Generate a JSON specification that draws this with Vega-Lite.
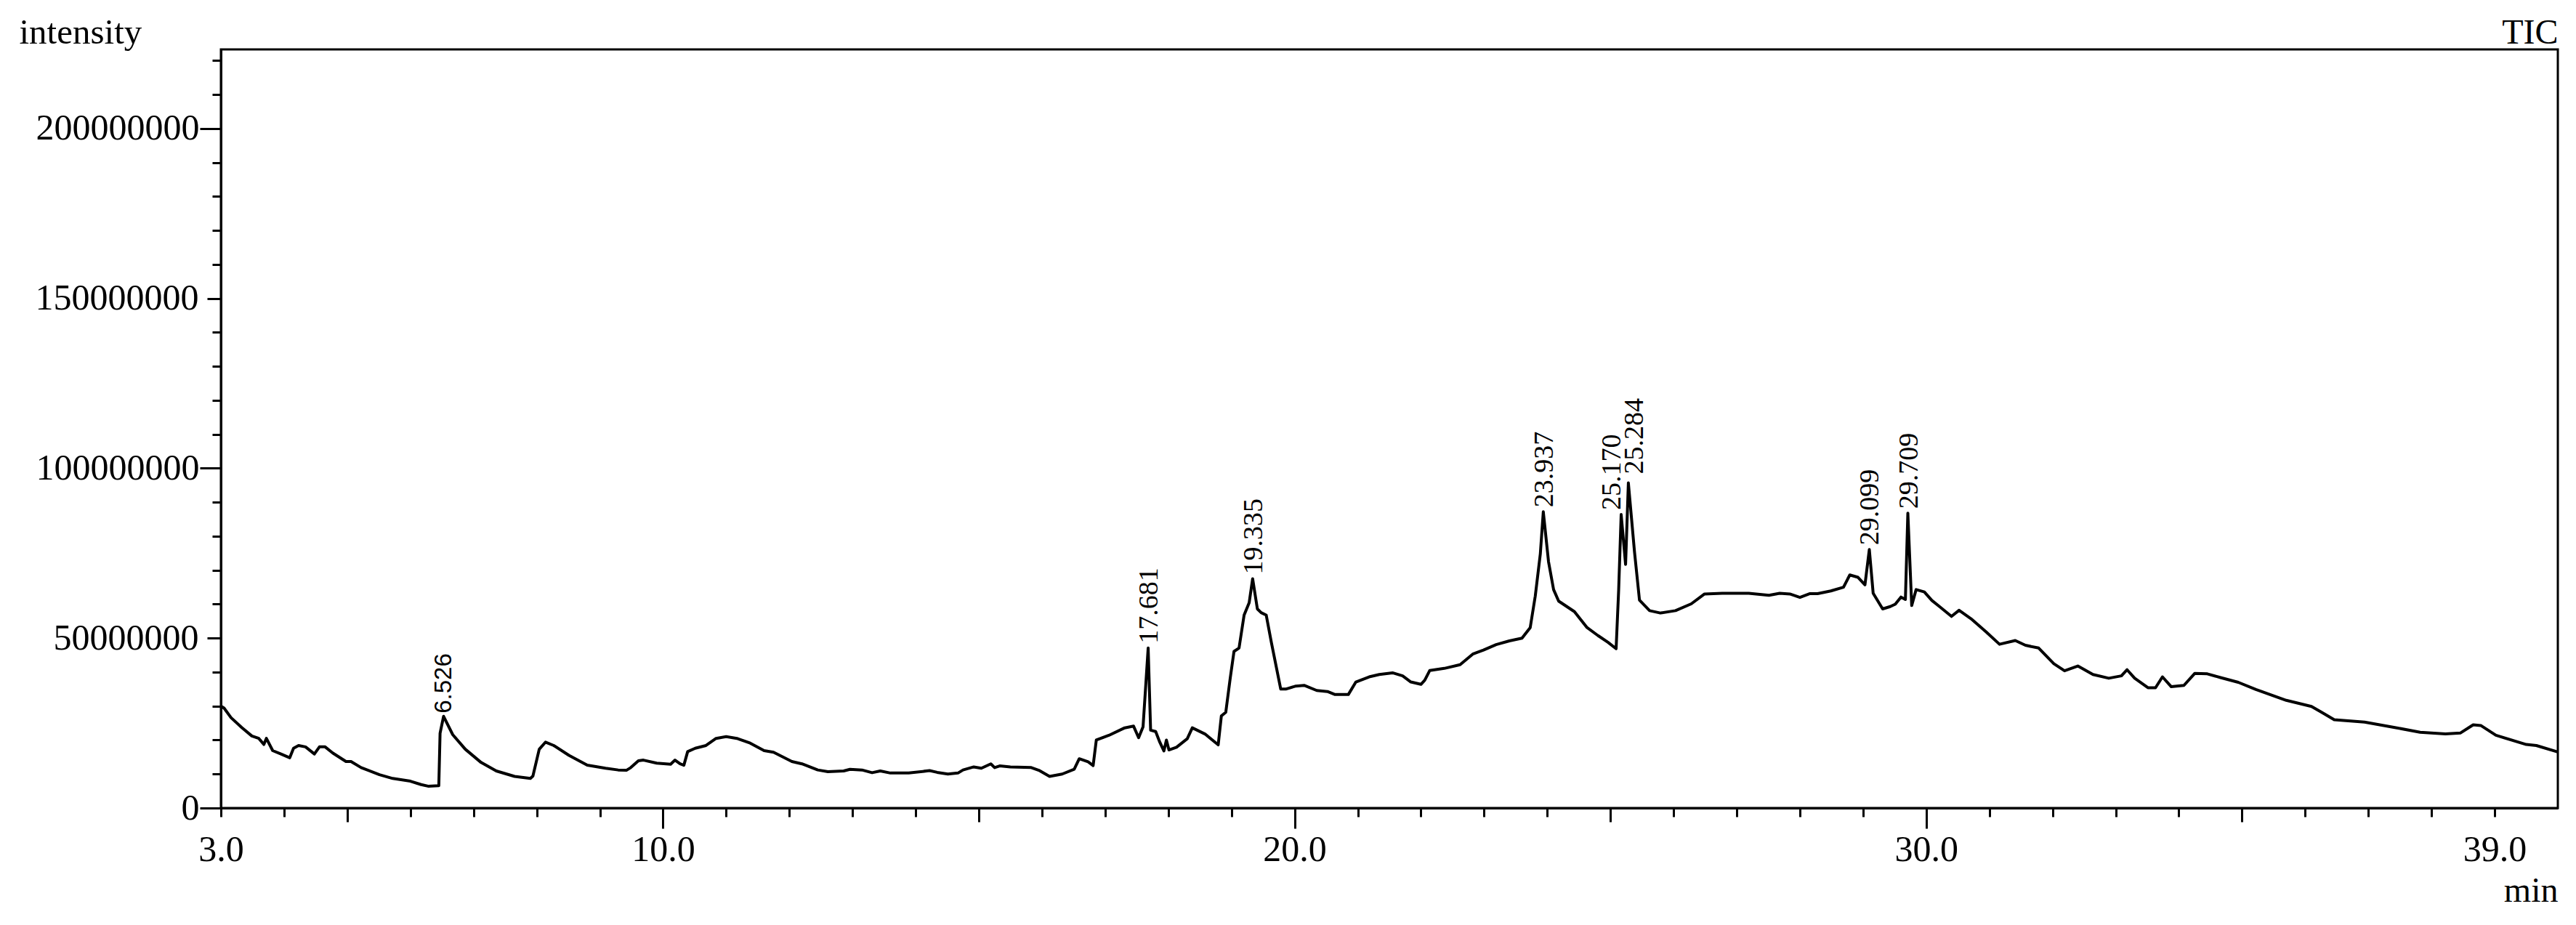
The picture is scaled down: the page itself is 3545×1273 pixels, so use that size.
{
  "$schema": "https://vega.github.io/schema/vega-lite/v6.json",
  "width": 3216,
  "height": 1044,
  "autosize": {"type": "none"},
  "padding": {"left": 304, "top": 68, "right": 25, "bottom": 161},
  "background": "white",
  "config": {
    "view": {"stroke": "black", "strokeWidth": 3},
    "axis": {"grid": false, "domainColor": "black", "domainWidth": 3, "tickColor": "black", "tickWidth": 3, "labelColor": "black", "titleColor": "black", "labelFont": "Liberation Serif", "titleFont": "Liberation Serif", "titleFontWeight": "normal", "labelOverlap": false, "labelFlush": false, "labelBound": false, "labelLimit": 0, "titleLimit": 0}
  },
  "data": {"values": [
    {"t": 3.0, "v": 30000000}, {"t": 3.05, "v": 29400000}, {"t": 3.16, "v": 26600000}, {"t": 3.33, "v": 23700000},
    {"t": 3.49, "v": 21200000}, {"t": 3.6, "v": 20500000}, {"t": 3.68, "v": 18700000}, {"t": 3.72, "v": 20500000},
    {"t": 3.82, "v": 16900000}, {"t": 3.95, "v": 15900000}, {"t": 4.09, "v": 14800000}, {"t": 4.15, "v": 17600000},
    {"t": 4.23, "v": 18400000}, {"t": 4.34, "v": 18000000}, {"t": 4.48, "v": 15900000}, {"t": 4.56, "v": 18000000},
    {"t": 4.65, "v": 18000000}, {"t": 4.77, "v": 16200000}, {"t": 4.98, "v": 13700000}, {"t": 5.06, "v": 13700000},
    {"t": 5.22, "v": 11900000}, {"t": 5.51, "v": 9800000}, {"t": 5.72, "v": 8700000}, {"t": 6.0, "v": 7900000},
    {"t": 6.17, "v": 6900000}, {"t": 6.29, "v": 6400000}, {"t": 6.45, "v": 6600000}, {"t": 6.47, "v": 22000000},
    {"t": 6.526, "v": 27000000, "label": "6.526"}, {"t": 6.67, "v": 21600000}, {"t": 6.87, "v": 17300000},
    {"t": 7.12, "v": 13400000}, {"t": 7.36, "v": 10900000}, {"t": 7.65, "v": 9300000}, {"t": 7.9, "v": 8700000},
    {"t": 7.94, "v": 9400000}, {"t": 8.04, "v": 17300000}, {"t": 8.14, "v": 19400000}, {"t": 8.27, "v": 18400000},
    {"t": 8.51, "v": 15500000}, {"t": 8.8, "v": 12600000}, {"t": 9.09, "v": 11700000}, {"t": 9.29, "v": 11200000},
    {"t": 9.42, "v": 11100000}, {"t": 9.49, "v": 11900000}, {"t": 9.61, "v": 13900000}, {"t": 9.69, "v": 14100000},
    {"t": 9.9, "v": 13200000}, {"t": 10.12, "v": 12900000}, {"t": 10.19, "v": 14100000}, {"t": 10.27, "v": 13000000},
    {"t": 10.33, "v": 12600000}, {"t": 10.39, "v": 16600000}, {"t": 10.51, "v": 17600000}, {"t": 10.68, "v": 18400000},
    {"t": 10.84, "v": 20500000}, {"t": 11.0, "v": 21000000}, {"t": 11.17, "v": 20500000}, {"t": 11.38, "v": 19100000},
    {"t": 11.6, "v": 16900000}, {"t": 11.75, "v": 16400000}, {"t": 12.04, "v": 13700000}, {"t": 12.2, "v": 13000000},
    {"t": 12.45, "v": 11200000}, {"t": 12.61, "v": 10700000}, {"t": 12.86, "v": 10900000}, {"t": 12.96, "v": 11400000},
    {"t": 13.15, "v": 11200000}, {"t": 13.31, "v": 10400000}, {"t": 13.44, "v": 10900000}, {"t": 13.6, "v": 10300000},
    {"t": 13.89, "v": 10300000}, {"t": 14.22, "v": 11000000}, {"t": 14.34, "v": 10500000}, {"t": 14.51, "v": 10000000},
    {"t": 14.67, "v": 10300000}, {"t": 14.75, "v": 11200000}, {"t": 14.92, "v": 12100000}, {"t": 15.04, "v": 11700000},
    {"t": 15.19, "v": 13000000}, {"t": 15.25, "v": 11900000}, {"t": 15.33, "v": 12400000}, {"t": 15.5, "v": 12100000},
    {"t": 15.83, "v": 11900000}, {"t": 15.95, "v": 11100000}, {"t": 16.12, "v": 9300000}, {"t": 16.32, "v": 10000000},
    {"t": 16.51, "v": 11400000}, {"t": 16.59, "v": 14500000}, {"t": 16.73, "v": 13600000}, {"t": 16.81, "v": 12500000},
    {"t": 16.86, "v": 20000000}, {"t": 17.06, "v": 21400000}, {"t": 17.31, "v": 23600000}, {"t": 17.45, "v": 24100000},
    {"t": 17.53, "v": 20700000}, {"t": 17.6, "v": 23900000}, {"t": 17.681, "v": 47100000, "label": "17.681"},
    {"t": 17.72, "v": 22900000}, {"t": 17.8, "v": 22500000}, {"t": 17.86, "v": 19600000}, {"t": 17.93, "v": 16800000},
    {"t": 17.97, "v": 20000000}, {"t": 18.01, "v": 17100000}, {"t": 18.13, "v": 17900000}, {"t": 18.3, "v": 20400000},
    {"t": 18.38, "v": 23600000}, {"t": 18.58, "v": 21800000}, {"t": 18.79, "v": 18600000}, {"t": 18.84, "v": 27100000},
    {"t": 18.91, "v": 28200000}, {"t": 18.98, "v": 38200000}, {"t": 19.04, "v": 46100000}, {"t": 19.12, "v": 47100000},
    {"t": 19.2, "v": 56800000}, {"t": 19.28, "v": 60400000}, {"t": 19.335, "v": 67500000, "label": "19.335"},
    {"t": 19.41, "v": 58600000}, {"t": 19.47, "v": 57500000}, {"t": 19.55, "v": 56800000}, {"t": 19.63, "v": 48900000},
    {"t": 19.78, "v": 35000000}, {"t": 19.86, "v": 35000000}, {"t": 20.02, "v": 35900000}, {"t": 20.15, "v": 36100000},
    {"t": 20.35, "v": 34600000}, {"t": 20.52, "v": 34300000}, {"t": 20.64, "v": 33400000}, {"t": 20.85, "v": 33400000},
    {"t": 20.97, "v": 37100000}, {"t": 21.18, "v": 38600000}, {"t": 21.34, "v": 39300000}, {"t": 21.55, "v": 39800000},
    {"t": 21.71, "v": 38900000}, {"t": 21.84, "v": 37100000}, {"t": 22.0, "v": 36400000}, {"t": 22.06, "v": 37600000},
    {"t": 22.14, "v": 40500000}, {"t": 22.37, "v": 41100000}, {"t": 22.62, "v": 42200000}, {"t": 22.82, "v": 45300000},
    {"t": 22.99, "v": 46500000}, {"t": 23.19, "v": 48100000}, {"t": 23.4, "v": 49200000}, {"t": 23.6, "v": 50000000},
    {"t": 23.73, "v": 53100000}, {"t": 23.81, "v": 62400000}, {"t": 23.89, "v": 74800000},
    {"t": 23.937, "v": 87200000, "label": "23.937"}, {"t": 24.02, "v": 72500000}, {"t": 24.1, "v": 64300000},
    {"t": 24.18, "v": 60900000}, {"t": 24.43, "v": 57800000}, {"t": 24.63, "v": 53100000}, {"t": 24.8, "v": 50800000},
    {"t": 24.96, "v": 48800000}, {"t": 25.09, "v": 46900000}, {"t": 25.13, "v": 64000000},
    {"t": 25.17, "v": 86400000, "label": "25.170"}, {"t": 25.24, "v": 71700000},
    {"t": 25.284, "v": 95700000, "label": "25.284"}, {"t": 25.38, "v": 75600000}, {"t": 25.46, "v": 61200000},
    {"t": 25.62, "v": 58100000}, {"t": 25.79, "v": 57400000}, {"t": 26.03, "v": 58100000}, {"t": 26.28, "v": 60100000},
    {"t": 26.49, "v": 63000000}, {"t": 26.77, "v": 63200000}, {"t": 27.19, "v": 63200000}, {"t": 27.51, "v": 62600000},
    {"t": 27.68, "v": 63200000}, {"t": 27.84, "v": 63000000}, {"t": 28.0, "v": 62000000}, {"t": 28.16, "v": 63100000},
    {"t": 28.28, "v": 63100000}, {"t": 28.49, "v": 63900000}, {"t": 28.69, "v": 65000000}, {"t": 28.79, "v": 68600000},
    {"t": 28.92, "v": 67900000}, {"t": 29.03, "v": 65700000}, {"t": 29.099, "v": 76100000, "label": "29.099"},
    {"t": 29.16, "v": 63200000}, {"t": 29.31, "v": 58600000}, {"t": 29.43, "v": 59300000}, {"t": 29.51, "v": 60000000},
    {"t": 29.6, "v": 62100000}, {"t": 29.67, "v": 61400000}, {"t": 29.709, "v": 86800000, "label": "29.709"},
    {"t": 29.77, "v": 59600000}, {"t": 29.84, "v": 64300000}, {"t": 29.97, "v": 63600000}, {"t": 30.09, "v": 61100000},
    {"t": 30.21, "v": 59300000}, {"t": 30.4, "v": 56400000}, {"t": 30.52, "v": 58200000}, {"t": 30.71, "v": 55700000},
    {"t": 30.95, "v": 51800000}, {"t": 31.16, "v": 48200000}, {"t": 31.41, "v": 49300000}, {"t": 31.57, "v": 47900000},
    {"t": 31.78, "v": 47100000}, {"t": 32.02, "v": 42500000}, {"t": 32.19, "v": 40400000}, {"t": 32.4, "v": 41800000},
    {"t": 32.64, "v": 39300000}, {"t": 32.89, "v": 38200000}, {"t": 33.09, "v": 38900000}, {"t": 33.18, "v": 40700000},
    {"t": 33.3, "v": 38200000}, {"t": 33.51, "v": 35400000}, {"t": 33.63, "v": 35400000}, {"t": 33.74, "v": 38600000},
    {"t": 33.88, "v": 35700000}, {"t": 34.08, "v": 36100000}, {"t": 34.25, "v": 39600000}, {"t": 34.45, "v": 39500000},
    {"t": 34.66, "v": 38400000}, {"t": 34.94, "v": 37000000}, {"t": 35.22, "v": 34900000}, {"t": 35.7, "v": 31700000},
    {"t": 36.1, "v": 29900000}, {"t": 36.26, "v": 28200000}, {"t": 36.46, "v": 26000000}, {"t": 36.94, "v": 25300000},
    {"t": 37.42, "v": 23700000}, {"t": 37.82, "v": 22300000}, {"t": 38.22, "v": 21800000}, {"t": 38.46, "v": 22100000},
    {"t": 38.66, "v": 24500000}, {"t": 38.78, "v": 24300000}, {"t": 39.02, "v": 21400000}, {"t": 39.5, "v": 18700000},
    {"t": 39.66, "v": 18400000}, {"t": 40.0, "v": 16500000}
  ]},
  "layer": [
    {
      "mark": {"type": "line", "color": "black", "strokeWidth": 4, "strokeJoin": "round"},
      "encoding": {
        "x": {
          "field": "t", "type": "quantitative",
          "scale": {"domain": [3, 40], "nice": false, "zero": false},
          "axis": {
            "values": [3,4,5,6,7,8,9,10,11,12,13,14,15,16,17,18,19,20,21,22,23,24,25,26,27,28,29,30,31,32,33,34,35,36,37,38,39],
            "labelExpr": "indexof([3,10,20,30,39], datum.value) >= 0 ? format(datum.value, '.1f') : ''",
            "tickSize": {"condition": [{"test": "datum.value % 10 === 0", "value": 28}, {"test": "datum.value % 5 === 0", "value": 19}], "value": 12},
            "labelPadding": {"condition": [{"test": "datum.value % 10 === 0", "value": 4}, {"test": "datum.value % 5 === 0", "value": 13}], "value": 20},
            "labelFontSize": 50,
            "title": "min", "titleFontSize": 48, "titleAngle": 0, "titleAlign": "right", "titleBaseline": "alphabetic",
            "titleX": 3216, "titleY": 128
          }
        },
        "y": {
          "field": "v", "type": "quantitative",
          "scale": {"domain": [0, 223300000], "nice": false, "zero": true},
          "axis": {
            "orient": "left",
            "values": [0,10000000,20000000,30000000,40000000,50000000,60000000,70000000,80000000,90000000,100000000,110000000,120000000,130000000,140000000,150000000,160000000,170000000,180000000,190000000,200000000,210000000,220000000],
            "labelExpr": "datum.value % 50000000 === 0 ? format(datum.value, 'd') : ''",
            "tickSize": {"condition": [{"test": "datum.value % 100000000 === 0", "value": 29}, {"test": "datum.value % 50000000 === 0", "value": 19}], "value": 12},
            "labelPadding": {"condition": [{"test": "datum.value % 100000000 === 0", "value": 1}, {"test": "datum.value % 50000000 === 0", "value": 12}], "value": 18},
            "labelFontSize": 50,
            "title": "intensity", "titleFontSize": 49, "titleAngle": 0, "titleAlign": "left", "titleBaseline": "alphabetic",
            "titleX": -278, "titleY": -9
          }
        }
      }
    },
    {
      "transform": [{"filter": "datum.label && datum.label !== '25.170' && datum.label !== '25.284' && datum.label !== '6.526'"}],
      "mark": {"type": "text", "angle": 270, "align": "left", "baseline": "middle", "dx": 6, "dy": 2, "font": "Liberation Serif", "fontSize": 38, "color": "black"},
      "encoding": {
        "x": {"field": "t", "type": "quantitative", "scale": {"domain": [3, 40], "nice": false, "zero": false}},
        "y": {
          "field": "v", "type": "quantitative", "scale": {"domain": [0, 223300000], "nice": false, "zero": true},
          "axis": {"orient": "right", "domain": false, "ticks": false, "labels": false, "grid": false,
            "title": "TIC", "titleFontSize": 48, "titleAngle": 0, "titleAlign": "right", "titleBaseline": "alphabetic",
            "titleX": 0, "titleY": -9}
        },
        "text": {"field": "label"}
      }
    },
    {
      "transform": [{"filter": "datum.label === '6.526'"}],
      "mark": {"type": "text", "angle": 270, "align": "left", "baseline": "middle", "dx": 4, "dy": 1, "font": "Liberation Sans", "fontSize": 33, "color": "black"},
      "encoding": {
        "x": {"field": "t", "type": "quantitative", "scale": {"domain": [3, 40], "nice": false, "zero": false}},
        "y": {"field": "v", "type": "quantitative", "scale": {"domain": [0, 223300000], "nice": false, "zero": true}, "axis": null},
        "text": {"field": "label"}
      }
    },
    {
      "transform": [{"filter": "datum.label === '25.170'"}],
      "mark": {"type": "text", "angle": 270, "align": "left", "baseline": "middle", "dx": 6, "dy": -12, "font": "Liberation Serif", "fontSize": 38, "color": "black"},
      "encoding": {
        "x": {"field": "t", "type": "quantitative", "scale": {"domain": [3, 40], "nice": false, "zero": false}},
        "y": {"field": "v", "type": "quantitative", "scale": {"domain": [0, 223300000], "nice": false, "zero": true}, "axis": null},
        "text": {"field": "label"}
      }
    },
    {
      "transform": [{"filter": "datum.label === '25.284'"}],
      "mark": {"type": "text", "angle": 270, "align": "left", "baseline": "middle", "dx": 12, "dy": 9, "font": "Liberation Serif", "fontSize": 38, "color": "black"},
      "encoding": {
        "x": {"field": "t", "type": "quantitative", "scale": {"domain": [3, 40], "nice": false, "zero": false}},
        "y": {"field": "v", "type": "quantitative", "scale": {"domain": [0, 223300000], "nice": false, "zero": true}, "axis": null},
        "text": {"field": "label"}
      }
    }
  ],
  "resolve": {"axis": {"y": "independent"}}
}
